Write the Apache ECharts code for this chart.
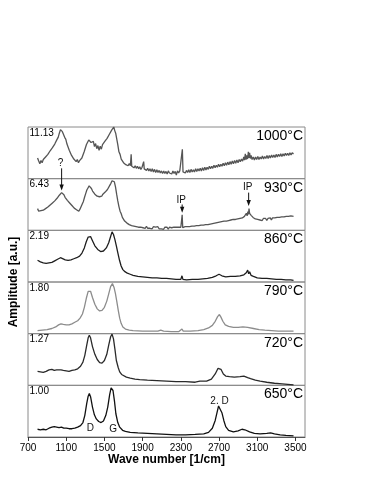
<!DOCTYPE html>
<html><head><meta charset="utf-8">
<script src="https://cdn.jsdelivr.net/npm/echarts@6/dist/echarts.min.js"></script>
<style>html,body{margin:0;padding:0;background:#fff}#c{width:374px;height:484px}</style>
</head><body><div id="c"></div>
<script>
const temps = ['1000°C','930°C','860°C','790°C','720°C','650°C'];
const scales = ['11.13','6.43','2.19','1.80','1.27','1.00'];
const xTicks = [700,1100,1500,1900,2300,2700,3100,3500];

const spec1000 = [[800,.40],[812,.34],[824,.29],[836,.35],[848,.31],[860,.37],[872,.35],[884,.42],[896,.40],[908,.47],[920,.46],[932,.54],[944,.52],[956,.60],[968,.62],[980,.67],[992,.70],[1004,.76],[1016,.80],[1028,.88],[1040,.95],[1050,.98],[1060,.91],[1072,.88],[1084,.80],[1096,.76],[1108,.67],[1120,.64],[1132,.55],[1144,.53],[1156,.45],[1168,.45],[1180,.38],[1192,.40],[1204,.33],[1216,.37],[1228,.31],[1240,.35],[1252,.32],[1264,.40],[1276,.42],[1288,.52],[1300,.55],[1312,.66],[1324,.67],[1336,.75],[1348,.77],[1360,.70],[1372,.68],[1384,.72],[1396,.62],[1408,.68],[1420,.58],[1432,.64],[1444,.55],[1456,.63],[1468,.57],[1480,.66],[1492,.64],[1504,.72],[1516,.71],[1528,.78],[1540,.79],[1552,.86],[1564,.88],[1576,.94],[1588,.97],[1598,1.0],[1608,.93],[1618,.88],[1628,.78],[1640,.66],[1652,.52],[1664,.47],[1676,.38],[1688,.37],[1700,.31],[1712,.33],[1724,.27],[1736,.30],[1748,.25],[1760,.29],[1772,.25],[1780,.47],[1786,.24],[1798,.27],[1810,.21],[1822,.25],[1834,.20],[1846,.24],[1858,.19],[1870,.23],[1882,.18],[1894,.22],[1905,.20],[1911,.33],[1917,.19],[1929,.21],[1941,.16],[1953,.20],[1965,.15],[1977,.19],[1989,.14],[2001,.19],[2013,.13],[2025,.18],[2037,.12],[2049,.17],[2061,.12],[2073,.16],[2085,.11],[2097,.15],[2109,.10],[2121,.15],[2133,.10],[2145,.14],[2157,.09],[2169,.15],[2181,.11],[2193,.14],[2205,.09],[2217,.15],[2229,.10],[2241,.14],[2253,.07],[2265,.15],[2277,.11],[2289,.15],[2301,.12],[2309,.16],[2316,.57],[2323,.13],[2335,.16],[2347,.11],[2359,.16],[2371,.12],[2383,.17],[2395,.12],[2407,.18],[2419,.13],[2431,.17],[2443,.13],[2455,.19],[2467,.14],[2479,.19],[2491,.15],[2503,.20],[2515,.15],[2527,.21],[2539,.16],[2551,.22],[2563,.17],[2575,.22],[2587,.18],[2599,.24],[2611,.19],[2623,.24],[2635,.20],[2647,.26],[2659,.21],[2671,.26],[2683,.22],[2695,.28],[2707,.23],[2719,.28],[2731,.24],[2743,.30],[2755,.25],[2767,.31],[2779,.26],[2791,.32],[2803,.27],[2815,.33],[2827,.28],[2839,.34],[2851,.29],[2863,.35],[2875,.30],[2887,.36],[2899,.31],[2911,.37],[2923,.33],[2935,.38],[2947,.34],[2959,.42],[2967,.36],[2975,.48],[2983,.37],[2991,.45],[2999,.38],[3007,.52],[3013,.40],[3020,.50],[3028,.39],[3036,.45],[3046,.37],[3058,.42],[3070,.36],[3082,.42],[3094,.37],[3106,.43],[3118,.37],[3130,.42],[3142,.38],[3154,.44],[3166,.38],[3178,.43],[3190,.39],[3202,.45],[3214,.39],[3226,.45],[3238,.40],[3250,.46],[3262,.41],[3274,.46],[3286,.41],[3298,.47],[3310,.42],[3322,.47],[3334,.43],[3346,.48],[3358,.43],[3370,.48],[3382,.44],[3394,.49],[3406,.45],[3418,.49],[3430,.45],[3442,.50],[3454,.46],[3466,.50],[3480,.48]];

const spec930 = [[800,.42],[812,.37],[824,.34],[836,.38],[848,.35],[860,.39],[872,.37],[884,.42],[896,.40],[908,.45],[920,.44],[932,.49],[944,.47],[956,.53],[968,.53],[980,.57],[992,.58],[1004,.62],[1016,.64],[1028,.68],[1040,.70],[1052,.73],[1064,.70],[1076,.69],[1088,.64],[1100,.63],[1112,.58],[1124,.58],[1136,.53],[1148,.53],[1160,.48],[1172,.48],[1184,.43],[1196,.44],[1208,.40],[1220,.41],[1232,.37],[1244,.41],[1256,.44],[1268,.51],[1280,.56],[1292,.64],[1304,.71],[1316,.78],[1328,.82],[1340,.86],[1352,.83],[1364,.81],[1376,.76],[1388,.76],[1400,.70],[1412,.71],[1424,.66],[1436,.69],[1448,.65],[1460,.68],[1472,.66],[1484,.70],[1496,.69],[1508,.74],[1520,.75],[1532,.79],[1544,.82],[1556,.87],[1568,.91],[1580,.96],[1592,.99],[1604,.94],[1616,.84],[1628,.70],[1640,.57],[1652,.46],[1664,.37],[1676,.32],[1688,.25],[1700,.23],[1712,.18],[1724,.18],[1736,.14],[1748,.15],[1760,.11],[1772,.13],[1784,.09],[1796,.12],[1808,.08],[1820,.11],[1832,.07],[1844,.10],[1856,.06],[1868,.09],[1880,.06],[1892,.08],[1904,.05],[1916,.08],[1928,.04],[1940,.08],[1952,.04],[1964,.07],[1976,.04],[1988,.07],[2000,.03],[2012,.07],[2024,.04],[2036,.06],[2048,.03],[2060,.07],[2072,.03],[2084,.06],[2096,.03],[2108,.06],[2120,.02],[2132,.06],[2144,.03],[2156,.06],[2168,.02],[2180,.06],[2192,.03],[2204,.05],[2216,.02],[2228,.06],[2240,.03],[2252,.06],[2264,.03],[2276,.06],[2288,.03],[2300,.06],[2308,.05],[2314,.30],[2320,.05],[2332,.03],[2344,.07],[2356,.04],[2368,.07],[2380,.04],[2392,.07],[2404,.04],[2416,.08],[2428,.05],[2440,.08],[2452,.05],[2464,.09],[2476,.06],[2488,.09],[2500,.06],[2512,.10],[2524,.07],[2536,.10],[2548,.07],[2560,.11],[2572,.08],[2584,.11],[2596,.09],[2608,.12],[2620,.09],[2632,.13],[2644,.10],[2656,.14],[2668,.11],[2680,.15],[2692,.12],[2704,.16],[2716,.13],[2728,.17],[2740,.14],[2752,.18],[2764,.15],[2776,.18],[2788,.15],[2800,.19],[2812,.16],[2824,.20],[2836,.17],[2848,.21],[2860,.18],[2872,.21],[2884,.19],[2896,.22],[2908,.19],[2920,.23],[2932,.20],[2944,.24],[2956,.22],[2966,.27],[2976,.24],[2986,.33],[2994,.28],[3002,.36],[3008,.31],[3014,.42],[3020,.33],[3028,.36],[3036,.29],[3046,.31],[3056,.25],[3068,.27],[3080,.22],[3092,.25],[3104,.21],[3116,.24],[3128,.20],[3140,.23],[3152,.19],[3164,.23],[3176,.20],[3188,.23],[3200,.19],[3212,.23],[3224,.20],[3236,.24],[3248,.20],[3260,.24],[3272,.21],[3284,.24],[3296,.21],[3308,.25],[3320,.22],[3332,.25],[3344,.22],[3356,.26],[3368,.23],[3380,.26],[3392,.23],[3404,.27],[3416,.24],[3428,.27],[3440,.24],[3452,.28],[3464,.25],[3480,.27]];

const spec860 = [[800,0.42],[830,0.39],[860,0.37],[890,0.36],[920,0.37],[950,0.38],[980,0.41],[1010,0.44],[1040,0.47],[1060,0.46],[1090,0.43],[1120,0.42],[1150,0.43],[1180,0.45],[1210,0.47],[1240,0.50],[1265,0.56],[1290,0.66],[1310,0.78],[1330,0.87],[1342,0.90],[1355,0.88],[1375,0.80],[1400,0.70],[1430,0.63],[1460,0.59],[1490,0.60],[1520,0.66],[1545,0.76],[1565,0.88],[1580,0.97],[1595,0.92],[1610,0.82],[1625,0.70],[1640,0.57],[1658,0.42],[1675,0.31],[1693,0.24],[1715,0.20],[1740,0.17],[1770,0.15],[1800,0.13],[1850,0.11],[1900,0.10],[1950,0.09],[2000,0.08],[2050,0.08],[2100,0.07],[2150,0.07],[2200,0.06],[2250,0.05],[2300,0.05],[2312,0.12],[2322,0.05],[2360,0.04],[2420,0.05],[2480,0.05],[2530,0.06],[2580,0.07],[2630,0.09],[2670,0.12],[2700,0.15],[2730,0.12],[2770,0.10],[2820,0.11],[2870,0.11],[2920,0.12],[2960,0.14],[2985,0.18],[3000,0.23],[3010,0.16],[3020,0.20],[3035,0.13],[3060,0.11],[3100,0.08],[3150,0.07],[3200,0.07],[3250,0.06],[3300,0.05],[3350,0.05],[3400,0.04],[3450,0.04],[3480,0.03]];

const spec790 = [[800,0.06],[850,0.07],[900,0.08],[950,0.10],[990,0.13],[1020,0.17],[1045,0.19],[1070,0.18],[1100,0.17],[1130,0.17],[1160,0.19],[1190,0.22],[1220,0.25],[1245,0.30],[1270,0.38],[1290,0.51],[1310,0.68],[1330,0.82],[1342,0.85],[1355,0.82],[1375,0.70],[1400,0.57],[1425,0.48],[1450,0.44],[1475,0.45],[1500,0.51],[1525,0.63],[1545,0.77],[1565,0.91],[1584,0.97],[1600,0.90],[1615,0.78],[1630,0.62],[1645,0.45],[1660,0.30],[1675,0.20],[1693,0.13],[1720,0.09],[1760,0.07],[1800,0.06],[1900,0.05],[2000,0.05],[2060,0.05],[2090,0.07],[2120,0.05],[2200,0.04],[2280,0.04],[2312,0.09],[2325,0.05],[2400,0.05],[2480,0.06],[2540,0.08],[2590,0.11],[2630,0.16],[2660,0.24],[2685,0.33],[2704,0.37],[2720,0.32],[2740,0.24],[2765,0.17],[2800,0.14],[2850,0.12],[2900,0.12],[2950,0.13],[3000,0.12],[3060,0.10],[3120,0.08],[3180,0.07],[3250,0.06],[3320,0.05],[3400,0.05],[3480,0.05]];

const spec720 = [[800,0.27],[830,0.26],[860,0.25],[890,0.27],[920,0.30],[950,0.31],[975,0.29],[1000,0.30],[1020,0.28],[1045,0.30],[1070,0.29],[1100,0.28],[1130,0.27],[1160,0.29],[1190,0.30],[1220,0.32],[1250,0.37],[1275,0.45],[1295,0.58],[1315,0.78],[1330,0.92],[1342,0.97],[1355,0.92],[1375,0.75],[1400,0.60],[1425,0.50],[1450,0.44],[1475,0.43],[1500,0.48],[1525,0.60],[1545,0.78],[1565,0.94],[1580,0.99],[1595,0.90],[1610,0.70],[1625,0.48],[1645,0.34],[1660,0.26],[1680,0.21],[1700,0.18],[1730,0.16],[1770,0.14],[1820,0.12],[1870,0.11],[1950,0.10],[2050,0.09],[2150,0.08],[2250,0.07],[2350,0.07],[2450,0.06],[2500,0.08],[2520,0.06],[2570,0.08],[2620,0.12],[2660,0.22],[2690,0.33],[2704,0.36],[2720,0.31],[2745,0.22],[2770,0.18],[2810,0.17],[2860,0.16],[2920,0.17],[2960,0.18],[3000,0.15],[3010,0.17],[3030,0.13],[3080,0.10],[3130,0.08],[3200,0.06],[3280,0.04],[3360,0.03],[3420,0.02],[3480,0.01]];

const spec650 = [[800,0.15],[830,0.14],[860,0.15],[890,0.14],[920,0.17],[950,0.19],[975,0.20],[1000,0.19],[1025,0.18],[1050,0.19],[1075,0.17],[1100,0.17],[1130,0.16],[1160,0.16],[1190,0.17],[1220,0.19],[1250,0.22],[1275,0.28],[1295,0.42],[1315,0.65],[1330,0.79],[1342,0.84],[1355,0.78],[1375,0.58],[1395,0.43],[1415,0.35],[1440,0.30],[1465,0.28],[1490,0.31],[1515,0.42],[1535,0.58],[1555,0.82],[1570,0.95],[1578,0.98],[1590,0.90],[1605,0.70],[1620,0.45],[1640,0.28],[1660,0.19],[1690,0.13],[1720,0.11],[1770,0.09],[1850,0.08],[1950,0.07],[2050,0.06],[2150,0.05],[2250,0.04],[2350,0.04],[2450,0.05],[2540,0.06],[2590,0.09],[2630,0.17],[2660,0.32],[2680,0.48],[2695,0.60],[2704,0.62],[2715,0.58],[2730,0.47],[2750,0.32],[2770,0.20],[2800,0.13],[2850,0.10],[2900,0.12],[2940,0.15],[2970,0.14],[3020,0.10],[3070,0.07],[3130,0.06],[3200,0.07],[3240,0.08],[3280,0.06],[3340,0.04],[3400,0.03],[3480,0.02]];

const spectra = [spec1000, spec930, spec860, spec790, spec720, spec650];
const lineColors = ['#555555','#555555','#1e1e1e','#8c8c8c','#2a2a2a','#111111'];

// annotations in data coordinates: [panel, wavenumber, textLevel, arrowFrom, arrowTo, text]
const arrowNotes = [[1,1052,1.30,1.20,0.77,'?'],[1,2314,0.59,0.50,0.34,'IP'],[1,3010,0.83,0.73,0.47,'IP']];
// peak labels: [panel, wavenumber, level, text]
const peakNotes = [[5,1352,0.17,'D'],[5,1592,0.15,'G'],[5,2705,0.70,'2. D']];

const FONT = 'Liberation Sans, Arial, sans-serif';
const L = 28, R = 305, T = 127, B = 437, W = 374;
const ph = (B - T) / 6;

const chart = echarts.init(document.getElementById('c'), null, {renderer: 'canvas'});
const grids = [], xAxes = [], yAxes = [], series = [];
for (let i = 0; i < 6; i++) {
  const last = i === 5;
  grids.push({left: L, right: W - R, top: T + i * ph, height: ph, show: true,
    borderColor: '#8a8a8a', borderWidth: 1, backgroundColor: 'transparent', outerBoundsMode: 'none'});
  xAxes.push({type: 'value', gridIndex: i, min: 700, max: 3600, interval: 400,
    splitLine: {show: false},
    axisLine: {show: last, lineStyle: {color: '#555', width: 1}},
    axisTick: {show: last, length: 4, customValues: xTicks, lineStyle: {color: '#333'}},
    axisLabel: {show: last, customValues: xTicks, fontSize: 10, color: '#000', fontFamily: FONT, margin: 6,
      formatter: function (v) { return String(v); }},
    name: last ? 'Wave number [1/cm]' : '', nameLocation: 'middle', nameGap: 17,
    nameTextStyle: {fontSize: 12, fontWeight: 'bold', color: '#000', fontFamily: FONT}});
  yAxes.push({type: 'value', gridIndex: i, min: 0, max: 1, show: false});
  series.push({type: 'line', xAxisIndex: i, yAxisIndex: i, data: spectra[i], showSymbol: false,
    symbol: 'none', smooth: false, animation: false,
    lineStyle: {color: lineColors[i], width: 1.3}});
}

chart.setOption({animation: false, grid: grids, xAxis: xAxes, yAxis: yAxes, series: series});

const g = [];
for (let i = 0; i < 6; i++) {
  const top = T + i * ph;
  g.push({type: 'text', x: R - 2, y: top + 9, style: {text: temps[i], fontSize: 14, fontFamily: FONT,
    fill: '#000', align: 'right', verticalAlign: 'middle'}});
  g.push({type: 'text', x: L + 1.5, y: top + 6, style: {text: scales[i], fontSize: 10, fontFamily: FONT,
    fill: '#000', align: 'left', verticalAlign: 'middle'}});
}
g.push({type: 'text', x: 14, y: (T + B) / 2, rotation: Math.PI / 2,
  style: {text: 'Amplitude [a.u.]', fontSize: 12, fontWeight: 'bold', fontFamily: FONT, fill: '#000',
    align: 'center', verticalAlign: 'middle'}});

arrowNotes.forEach(function (a) {
  const pT = chart.convertToPixel({gridIndex: a[0]}, [a[1], a[2]]);
  const p1 = chart.convertToPixel({gridIndex: a[0]}, [a[1], a[3]]);
  const p2 = chart.convertToPixel({gridIndex: a[0]}, [a[1], a[4]]);
  g.push({type: 'text', x: pT[0] - 1, y: pT[1], style: {text: a[5], fontSize: 10, fontFamily: FONT,
    fill: '#111', align: 'center', verticalAlign: 'middle'}});
  g.push({type: 'line', shape: {x1: p1[0], y1: p1[1], x2: p2[0], y2: p2[1] - 4},
    style: {stroke: '#111', lineWidth: 1}});
  g.push({type: 'polygon', shape: {points: [[p2[0] - 2.2, p2[1] - 6], [p2[0] + 2.2, p2[1] - 6], [p2[0], p2[1]]]},
    style: {fill: '#111'}});
});
peakNotes.forEach(function (a) {
  const p = chart.convertToPixel({gridIndex: a[0]}, [a[1], a[2]]);
  g.push({type: 'text', x: p[0], y: p[1], style: {text: a[3], fontSize: 10, fontFamily: FONT,
    fill: '#111', align: 'center', verticalAlign: 'middle'}});
});
chart.setOption({graphic: g});
</script>
</body></html>
